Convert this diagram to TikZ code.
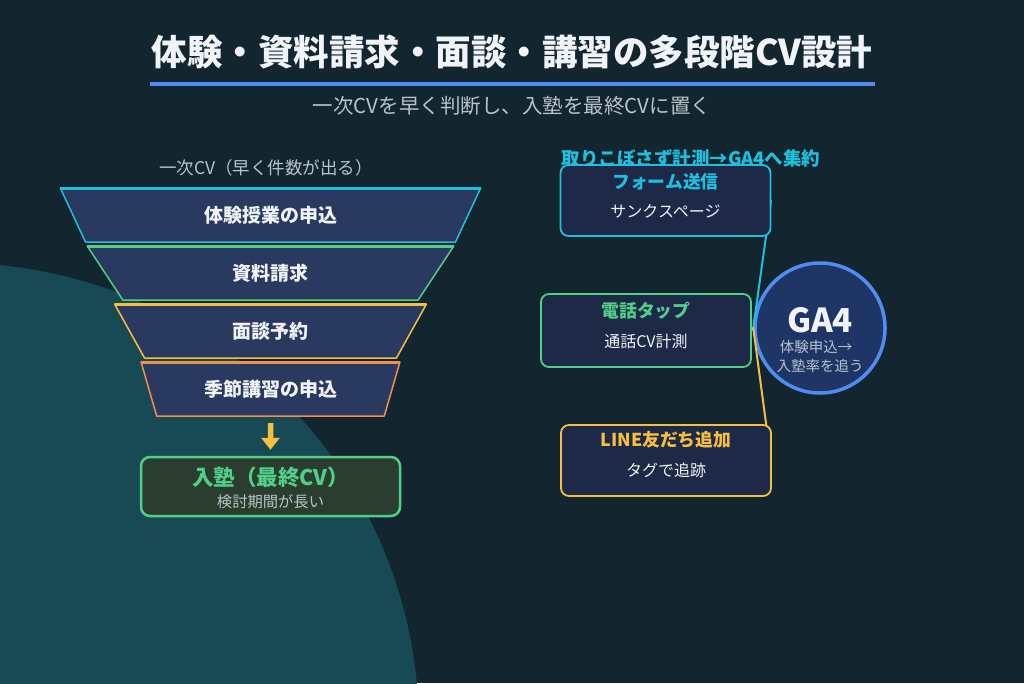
\documentclass[tikz,border=0pt]{standalone}
\usepackage{fontspec}
\setmainfont{Noto Sans CJK JP}
\usetikzlibrary{shapes.geometric,arrows.meta}
\definecolor{bgdark}{HTML}{13262F}
\definecolor{bgteal}{HTML}{184A55}
\definecolor{titlewhite}{HTML}{F0F4F8}
\definecolor{subgray}{HTML}{B8C4CC}
\definecolor{lineblue}{HTML}{4F8EF0}
\definecolor{stcyan}{HTML}{1EC0E0}
\definecolor{stgreen}{HTML}{4FCF8A}
\definecolor{styellow}{HTML}{F5C040}
\definecolor{storange}{HTML}{F0904A}
\definecolor{funnelfill}{HTML}{2A3960}
\definecolor{boxfill}{HTML}{1D2946}
\definecolor{finalfill}{HTML}{2B3D2E}
\definecolor{gafill}{HTML}{1F3566}
\begin{document}
\begin{tikzpicture}[x=1pt,y=-1pt,line cap=round,line join=round,
  stage/.style={trapezium,trapezium stretches=true,shape border rotate=180,
    trapezium left angle=63.43,trapezium right angle=63.43,
    minimum height=54pt,inner sep=0pt,outer sep=0pt,fill=funnelfill,
    line width=1.5pt,text=titlewhite,font=\fontsize{19}{22}\selectfont\bfseries},
  toprim/.style={line width=3pt,line cap=butt},
  srcbox/.style={rectangle,rounded corners=8pt,minimum width=210pt,minimum height=71pt,
    fill=boxfill,line width=1.8pt,inner sep=0pt},
  boxhead/.style={font=\fontsize{17.8}{20}\selectfont\bfseries},
  boxsub/.style={text=titlewhite,font=\fontsize{16}{19}\selectfont},
  feed/.style={line width=2pt}]
  \fill[bgdark] (0,0) rectangle (1024,683);
  \useasboundingbox (0,0) rectangle (1024,683);
  \fill[bgteal] (-46,728) circle[radius=465];
  % title
  \node[text=titlewhite,font=\fontsize{35.5}{40}\selectfont\bfseries] (title) at (512,52) {体験・資料請求・面談・講習の多段階CV設計};
  \draw[lineblue,line width=3.5pt,line cap=butt] (150,84) -- (875,84);
  \node[text=subgray,font=\fontsize{20.5}{24}\selectfont] (subtitle) at (512,106) {一次CVを早く判断し、入塾を最終CVに置く};
  % funnel
  \node[text=subgray,font=\fontsize{17.5}{20}\selectfont] (firstcv) at (266,168) {一次CV（早く件数が出る）};
  \node[stage,draw=stcyan,minimum width=421pt] (trial) at (270.5,215) {体験授業の申込};
  \node[stage,draw=stgreen,minimum width=367pt] (docs) at (270.5,273) {資料請求};
  \node[stage,draw=styellow,minimum width=313pt] (meet) at (270.5,331) {面談予約};
  \node[stage,draw=storange,minimum width=259pt] (season) at (270.5,389) {季節講習の申込};
  \draw[toprim,stcyan] (trial.bottom left corner) -- (trial.bottom right corner);
  \draw[toprim,stgreen] (docs.bottom left corner) -- (docs.bottom right corner);
  \draw[toprim,styellow] (meet.bottom left corner) -- (meet.bottom right corner);
  \draw[toprim,storange] (season.bottom left corner) -- (season.bottom right corner);
  \node[rectangle,rounded corners=9pt,minimum width=259pt,minimum height=59pt,
    fill=finalfill,draw=stgreen,line width=2.5pt,inner sep=0pt] (enroll) at (270.5,486.5) {};
  \node[text=stgreen,font=\fontsize{21.5}{24}\selectfont\bfseries] (enrollhead) at (270.5,477) {入塾（最終CV）};
  \node[text=subgray,font=\fontsize{15.3}{18}\selectfont] (enrollsub) at (270.5,502) {検討期間が長い};
  \draw[styellow,line width=5.5pt,line cap=butt,-{Triangle[width=18pt,length=12pt]},
    shorten <=7pt,shorten >=6pt] (season.south) -- (enroll.north);
  % measurement
  \node[text=stcyan,font=\fontsize{18.5}{21}\selectfont\bfseries] (collect) at (691,158) {取りこぼさず計測→GA4へ集約};
  \node[circle,minimum size=130pt,inner sep=0pt,fill=gafill,draw=lineblue,line width=3.5pt] (ga) at (820,328) {};
  \node[text=titlewhite,font=\fontsize{33}{36}\selectfont\bfseries] (gahead) at (820,320) {GA4};
  \node[text=subgray,font=\fontsize{14.5}{17}\selectfont] (gasub1) at (816,347) {体験申込→};
  \node[text=subgray,font=\fontsize{14.5}{17}\selectfont] (gasub2) at (820,366) {入塾率を追う};
  \coordinate (form-e) at (771,200.5);
  \coordinate (tel-e) at (751,330.5);
  \coordinate (line-e) at (771,460.5);
  \draw[feed,stcyan] (form-e) -- (ga.west);
  \draw[feed,stgreen] (tel-e) -- (ga.west);
  \draw[feed,styellow] (line-e) -- (ga.west);
  \node[srcbox,draw=stcyan] (form) at (665.5,200.5) {};
  \node[boxhead,text=stcyan] (formhead) at (665.5,182) {フォーム送信};
  \node[boxsub] (formsub) at (665.5,211) {サンクスページ};
  \node[srcbox,draw=stgreen,minimum height=73pt] (tel) at (646,330.5) {};
  \node[boxhead,text=stgreen] (telhead) at (646,311) {電話タップ};
  \node[boxsub] (telsub) at (646,341) {通話CV計測};
  \node[srcbox,draw=styellow] (line) at (666,460.5) {};
  \node[boxhead,text=styellow] (linehead) at (666,440) {LINE友だち追加};
  \node[boxsub] (linesub) at (666,470) {タグで追跡};
\end{tikzpicture}
\end{document}
